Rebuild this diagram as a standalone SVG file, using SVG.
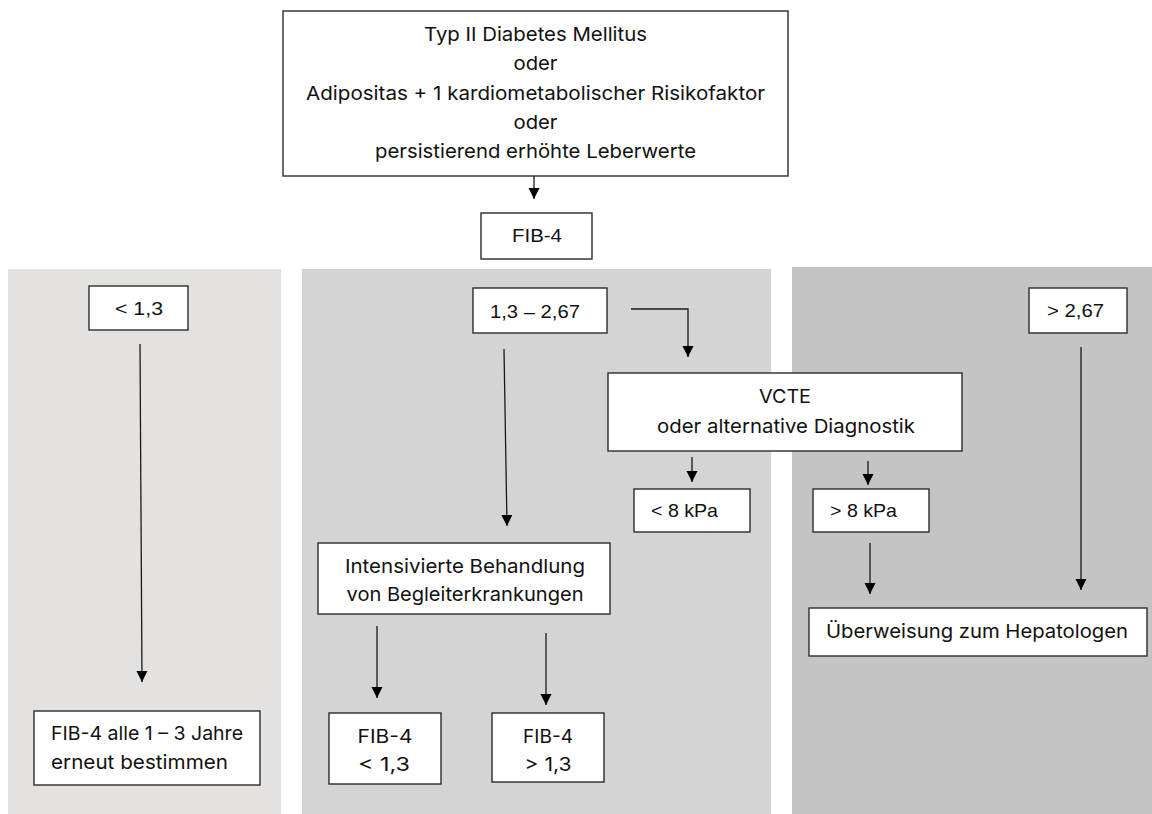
<svg xmlns="http://www.w3.org/2000/svg" width="1152" height="814" viewBox="0 0 1152 814">
<style>
.box{fill:#ffffff;stroke:#2b2b2b;stroke-width:1.4}
.t{font-family:"Inter","Noto Sans","Liberation Sans",sans-serif;font-size:19px;fill:#111111}
.a{font-family:"Liberation Sans",Arial,sans-serif;font-size:19px;fill:#111111}
.c{text-anchor:middle}
.ln{stroke:#1a1a1a;stroke-width:1.3;fill:none;marker-end:url(#ah)}
</style>
<defs>
<marker id="ah" viewBox="0 0 10 10" refX="10" refY="5" markerWidth="11" markerHeight="12" markerUnits="userSpaceOnUse" orient="auto">
<path d="M0,0 L10,5 L0,10 z" fill="#000"/>
</marker>
</defs>
<rect x="0" y="0" width="1152" height="814" fill="#ffffff"/>
<g id="panels">
<rect x="8" y="269" width="273" height="545" fill="#e3e2e1"/>
<rect x="302" y="269" width="469" height="545" fill="#d4d4d4"/>
<rect x="792" y="267" width="360" height="547" fill="#c4c4c4"/>
</g>
<g id="n-start">
<rect class="box" x="283" y="11" width="505" height="165"/>
<text class="t c" x="535.5" y="41" textLength="223" lengthAdjust="spacingAndGlyphs">Typ II Diabetes Mellitus</text>
<text class="t c" x="535.5" y="70" textLength="44" lengthAdjust="spacingAndGlyphs">oder</text>
<text class="t c" x="535.5" y="100" textLength="459" lengthAdjust="spacingAndGlyphs">Adipositas + 1 kardiometabolischer Risikofaktor</text>
<text class="t c" x="535.5" y="129" textLength="44" lengthAdjust="spacingAndGlyphs">oder</text>
<text class="t c" x="535.5" y="158" textLength="321" lengthAdjust="spacingAndGlyphs">persistierend erhöhte Leberwerte</text>
</g>
<g id="n-fib4">
<rect class="box" x="481" y="213" width="111" height="46"/>
<text class="a c" x="537" y="242" textLength="50" lengthAdjust="spacingAndGlyphs">FIB-4</text>
</g>
<g id="n-lt13">
<rect class="box" x="89" y="286" width="99" height="44"/>
<text class="a" x="115" y="315" textLength="48" lengthAdjust="spacingAndGlyphs">&lt; 1,3</text>
</g>
<g id="n-mid">
<rect class="box" x="473" y="288" width="134" height="45"/>
<text class="a" x="490" y="318" textLength="90" lengthAdjust="spacingAndGlyphs">1,3 – 2,67</text>
</g>
<g id="n-gt267">
<rect class="box" x="1029" y="288" width="98" height="45"/>
<text class="a" x="1047" y="317" textLength="57" lengthAdjust="spacingAndGlyphs">&gt; 2,67</text>
</g>
<g id="n-vcte">
<rect class="box" x="608" y="373" width="354" height="78"/>
<text class="t c" x="785" y="403" textLength="52" lengthAdjust="spacingAndGlyphs">VCTE</text>
<text class="t c" x="786" y="433" textLength="258" lengthAdjust="spacingAndGlyphs">oder alternative Diagnostik</text>
</g>
<g id="n-lt8">
<rect class="box" x="634" y="489" width="116" height="43"/>
<text class="a" x="651" y="517" textLength="67" lengthAdjust="spacingAndGlyphs">&lt; 8 kPa</text>
</g>
<g id="n-gt8">
<rect class="box" x="813" y="489" width="116" height="43"/>
<text class="a" x="830" y="517" textLength="67" lengthAdjust="spacingAndGlyphs">&gt; 8 kPa</text>
</g>
<g id="n-intens">
<rect class="box" x="318" y="543" width="292" height="71"/>
<text class="t c" x="465" y="573" textLength="240" lengthAdjust="spacingAndGlyphs">Intensivierte Behandlung</text>
<text class="t c" x="465" y="601" textLength="237" lengthAdjust="spacingAndGlyphs">von Begleiterkrankungen</text>
</g>
<g id="n-fibrepeat">
<rect class="box" x="34" y="711" width="226" height="74"/>
<text class="t" x="51" y="740" textLength="192" lengthAdjust="spacingAndGlyphs">FIB-4 alle 1 – 3 Jahre</text>
<text class="t" x="51" y="769" textLength="177" lengthAdjust="spacingAndGlyphs">erneut bestimmen</text>
</g>
<g id="n-fiblt">
<rect class="box" x="329" y="713" width="112" height="71"/>
<text class="t c" x="385" y="743" textLength="55" lengthAdjust="spacingAndGlyphs">FIB-4</text>
<text class="t c" x="384" y="771" textLength="52" lengthAdjust="spacingAndGlyphs">&lt; 1,3</text>
</g>
<g id="n-fibgt">
<rect class="box" x="492" y="713" width="112" height="69"/>
<text class="t c" x="548" y="743" textLength="50" lengthAdjust="spacingAndGlyphs">FIB-4</text>
<text class="t c" x="548" y="771" textLength="47" lengthAdjust="spacingAndGlyphs">&gt; 1,3</text>
</g>
<g id="n-uber">
<rect class="box" x="809" y="608" width="338" height="48"/>
<text class="t" x="826" y="638" textLength="302" lengthAdjust="spacingAndGlyphs">Überweisung zum Hepatologen</text>
</g>
<g id="connectors">
<path class="ln" d="M534,176 V199"/>
<path class="ln" d="M140,344 L142,682"/>
<path class="ln" d="M504,349 L507,526"/>
<path class="ln" d="M631,309 H688 V357"/>
<path class="ln" d="M692,457 V482"/>
<path class="ln" d="M868,461 V485"/>
<path class="ln" d="M870,543 V594"/>
<path class="ln" d="M1081,347 V590"/>
<path class="ln" d="M377,626 V698"/>
<path class="ln" d="M546,633 V705"/>
</g>
</svg>
